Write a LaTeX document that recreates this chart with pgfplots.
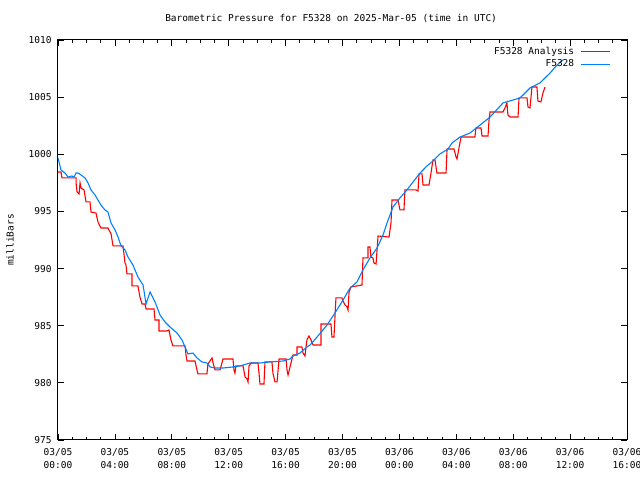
\documentclass[border=0pt]{standalone}
\usepackage{fontspec}
\setmainfont{DejaVu Sans Mono}
\usepackage{pgfplots}
\pgfplotsset{compat=1.18}
\definecolor{gpred}{RGB}{255,0,0}
\definecolor{gpblue}{RGB}{0,128,255}
\newcommand{\gpfont}{\fontsize{9.5bp}{13bp}\selectfont}
\begin{document}
\begin{tikzpicture}
\path[use as bounding box] (0,0) rectangle (640bp,480bp);
\begin{axis}[
  at={(58bp,40bp)}, anchor=south west,
  scale only axis, width=569bp, height=400bp,
  xmin=0, xmax=40, ymin=975, ymax=1010,
  xtick={0,4,...,40},
  xticklabels={{03/05\\00:00},{03/05\\04:00},{03/05\\08:00},{03/05\\12:00},{03/05\\16:00},{03/05\\20:00},{03/06\\00:00},{03/06\\04:00},{03/06\\08:00},{03/06\\12:00},{03/06\\16:00}},
  minor x tick num=3,
  ytick={975,980,...,1010},
  /pgf/number format/assume math mode=true,
  /pgf/number format/1000 sep={},
  tick pos=both, xticklabel pos=lower, yticklabel pos=left,
  major tick length=6bp, minor tick length=3bp,
  tick style={black, line width=0.8bp},
  axis line style={black, line width=1bp},
  xticklabel style={align=center, font=\gpfont, yshift=-5bp},
  yticklabel style={font=\gpfont, xshift=-3bp},
  ylabel={milliBars},
  every axis y label/.style={at={(axis description cs:-0.0844,0.5)}, rotate=90, anchor=center, font=\gpfont},
  title={Barometric Pressure for F5328 on 2025-Mar-05 (time in UTC)},
  every axis title/.style={at={(axis description cs:0.48,1.0525)}, anchor=center, font=\gpfont},
  legend style={draw=none, fill=none, at={(axis description cs:0.9735,0.99)}, anchor=north east, font=\gpfont, row sep=0bp, inner sep=1bp},
  legend cell align=right,
  legend plot pos=right,
  legend image code/.code={\path[draw=none] (0bp,0bp) -- (1bp,0bp); \draw[#1] (5bp,0bp) -- (34bp,0bp);},
]
\addplot[gpred, line width=1.1bp, line join=miter] coordinates {
(0,998.45) (0.21,998.45) (0.28,997.93) (1.27,997.93) (1.27,997.49) (1.34,996.7) (1.48,996.53) (1.55,997.49) (1.62,997.05) (1.83,996.88) (1.97,995.83) (2.25,995.83) (2.32,994.95) (2.67,994.86) (2.81,994.08) (3.02,993.55) (3.51,993.55) (3.73,993.03) (3.87,991.98) (4.57,991.98) (4.71,990.49) (4.78,990.31) (4.85,989.53) (5.20,989.53) (5.20,988.48) (5.62,988.48) (5.76,987.51) (5.91,986.9) (6.12,986.9) (6.19,986.46) (6.75,986.46) (6.82,985.5) (7.10,985.5) (7.10,984.54) (7.66,984.54) (7.80,984.63) (7.94,983.75) (8.08,983.23) (8.93,983.23) (9.00,982.44) (9.07,981.91) (9.63,981.91) (9.77,981.13) (9.84,980.78) (10.47,980.78) (10.54,981.65) (10.83,982.18) (10.90,981.74) (11.04,981.13) (11.39,981.13) (11.60,982.09) (12.30,982.09) (12.37,981.13) (12.44,980.86) (12.51,981.48) (13.01,981.48) (13.15,980.51) (13.29,980.34) (13.36,980.08) (13.43,981.48) (13.57,981.74) (14.06,981.74) (14.13,980.86) (14.20,979.9) (14.48,979.9) (14.55,981.83) (15.04,981.83) (15.11,980.86) (15.25,980.08) (15.40,980.08) (15.54,982.09) (16.03,982.09) (16.10,981.13) (16.17,980.69) (16.31,981.39) (16.38,981.74) (16.52,982.44) (16.80,982.44) (16.80,983.14) (17.15,983.14) (17.22,982.61) (17.36,982.35) (17.50,983.75) (17.64,984.1) (17.79,983.75) (17.93,983.31) (18.49,983.31) (18.49,985.15) (19.19,985.15) (19.26,984.01) (19.40,984.01) (19.47,985.76) (19.54,987.43) (19.96,987.43) (20.04,987.16) (20.18,986.81) (20.32,986.64) (20.39,986.38) (20.46,987.95) (20.60,988.39) (21.37,988.56) (21.44,990.93) (21.79,990.93) (21.79,991.89) (21.93,991.89) (22.00,991.01) (22.14,990.93) (22.21,990.49) (22.36,990.4) (22.43,991.63) (22.50,992.85) (23.27,992.76) (23.41,993.99) (23.48,996.0) (23.90,996.0) (24.04,995.13) (24.32,995.13) (24.39,996.88) (25.17,996.88) (25.31,996.79) (25.38,998.28) (25.59,998.28) (25.66,997.31) (26.08,997.31) (26.22,998.36) (26.36,999.5) (26.50,999.5) (26.64,998.36) (27.28,998.36) (27.35,1000.46) (27.84,1000.46) (27.98,999.76) (28.05,999.59) (28.19,1000.55) (28.33,1001.51) (29.31,1001.51) (29.38,1002.3) (29.74,1002.3) (29.81,1001.6) (30.23,1001.6) (30.30,1003.0) (30.37,1003.7) (31.28,1003.7) (31.42,1004.05) (31.56,1004.49) (31.63,1003.44) (31.78,1003.26) (32.34,1003.26) (32.41,1004.93) (32.97,1004.93) (33.04,1004.14) (33.18,1004.05) (33.32,1005.89) (33.67,1005.89) (33.74,1004.66) (33.95,1004.58) (34.09,1005.36) (34.24,1005.89)
};
\addlegendentry{F5328 Analysis}
\addplot[gpblue, line width=1.1bp] coordinates {
(0,999.68) (0.21,998.63) (0.49,998.36) (0.70,998.01) (0.98,998.1) (1.12,998.01) (1.27,998.36) (1.41,998.36) (1.62,998.19) (1.90,997.93) (2.11,997.49) (2.32,996.88) (2.60,996.44) (2.81,996.0) (3.02,995.56) (3.30,995.13) (3.51,994.95) (3.73,993.99) (4.01,993.38) (4.22,992.76) (4.43,991.98) (4.71,991.63) (4.92,991.01) (5.27,990.31) (5.62,989.26) (5.98,988.56) (6.19,986.9) (6.47,987.95) (6.82,987.08) (7.17,985.94) (7.52,985.33) (7.87,984.89) (8.37,984.36) (8.72,983.75) (8.93,983.14) (9.14,982.53) (9.49,982.61) (9.77,982.18) (10.12,981.83) (10.47,981.74) (10.69,981.39) (11.04,981.3) (11.60,981.3) (12.30,981.39) (12.79,981.48) (13.50,981.74) (14.20,981.74) (14.90,981.83) (15.82,981.91) (16.31,982.09) (16.52,982.35) (17.01,982.61) (17.50,983.14) (17.72,983.31) (18.21,984.01) (18.63,984.63) (18.91,985.06) (19.47,986.11) (20.04,987.25) (20.53,988.3) (21.02,988.83) (21.44,989.88) (21.93,990.93) (22.43,991.8) (22.85,992.94) (23.13,993.99) (23.55,995.39) (24.04,996.18) (24.53,996.88) (24.96,997.58) (25.45,998.36) (25.94,998.98) (26.36,999.41) (26.85,1000.03) (27.42,1000.46) (27.70,1000.99) (28.26,1001.51) (28.96,1001.86) (29.67,1002.56) (30.37,1003.26) (31.28,1004.49) (32.48,1004.93) (33.18,1005.8) (33.88,1006.24) (34.59,1007.11) (35.08,1007.81) (35.50,1008.25)
};
\addlegendentry{F5328}
\end{axis}
\end{tikzpicture}
\end{document}
